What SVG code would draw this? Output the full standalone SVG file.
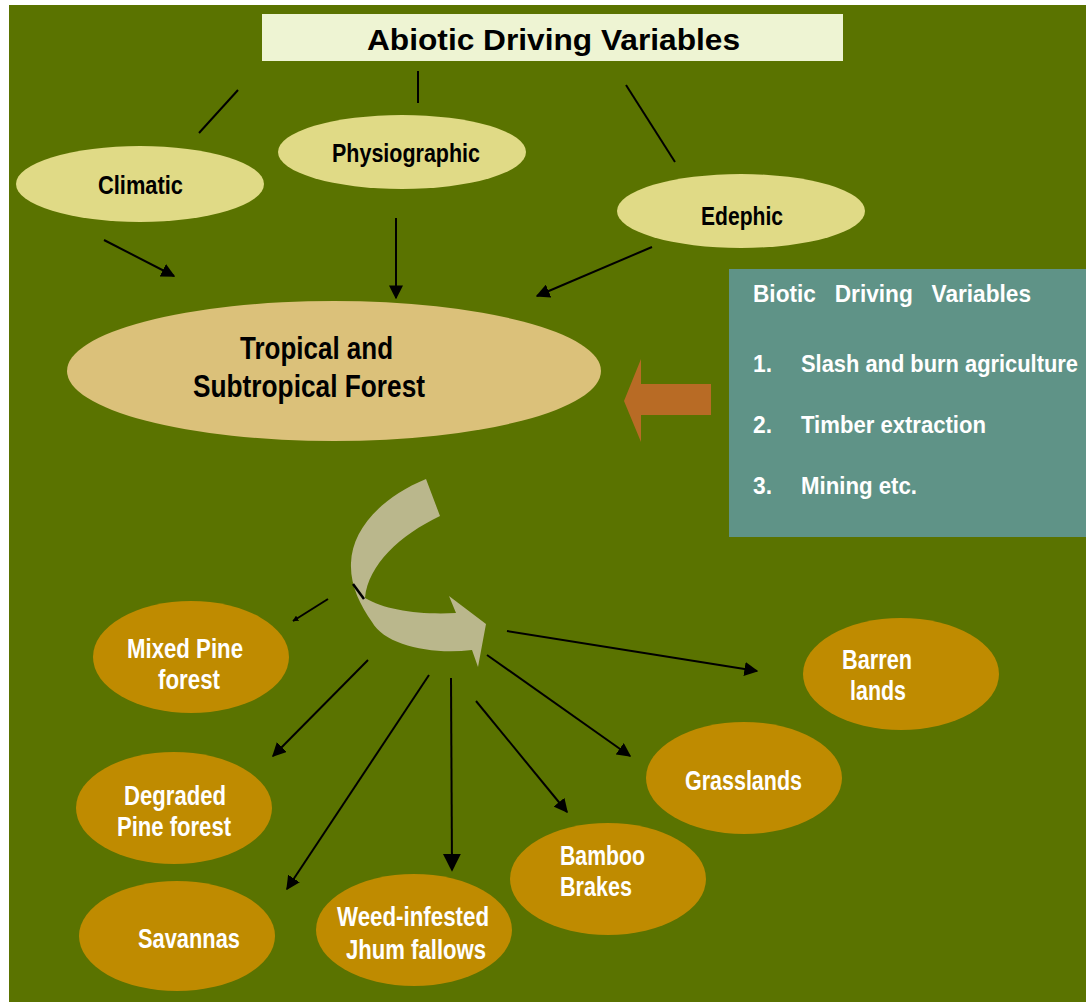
<svg xmlns="http://www.w3.org/2000/svg" width="1086" height="1002" viewBox="0 0 1086 1002">
<defs>
<style>
.cond{font-family:"Liberation Sans",Arial,sans-serif;font-weight:bold}
.dk{fill:#000}
.wt{fill:#fff}
.ab{fill:#E0DA86}
.br{fill:#BF8B00}
.ln{stroke:#000;stroke-width:2;fill:none}
</style>
<marker id="ah" viewBox="0 0 10 10" refX="9" refY="5" markerWidth="6" markerHeight="6" orient="auto" markerUnits="userSpaceOnUse">
<path d="M0,0 L10,5 L0,10 Z" fill="#000"/>
</marker>
<marker id="ahs" viewBox="0 0 10 10" refX="9" refY="5" markerWidth="14" markerHeight="14" orient="auto" markerUnits="userSpaceOnUse">
<path d="M0,0 L10,5 L0,10 Z" fill="#000"/>
</marker>
<marker id="ahl" viewBox="0 0 10 10" refX="9" refY="5" markerWidth="18" markerHeight="18" orient="auto" markerUnits="userSpaceOnUse">
<path d="M0,0 L10,5 L0,10 Z" fill="#000"/>
</marker>
</defs>
<rect x="0" y="0" width="1086" height="1002" fill="#fff"/>
<rect x="9" y="5" width="1077" height="997" fill="#5A7300"/>

<g id="title">
<rect x="262" y="14" width="581" height="47" fill="#EEF4D3"/>
<text x="367" y="50" font-family="'Liberation Sans',Arial,sans-serif" font-weight="bold" font-size="30" fill="#000" textLength="373" lengthAdjust="spacingAndGlyphs">Abiotic Driving Variables</text>
</g>

<g id="connectors">
<line class="ln" x1="238" y1="90" x2="199" y2="133"/>
<line class="ln" x1="418" y1="71" x2="418" y2="103"/>
<line class="ln" x1="626" y1="85" x2="675" y2="162"/>
<line class="ln" x1="104" y1="240" x2="174" y2="276" marker-end="url(#ahs)"/>
<line class="ln" x1="396" y1="218" x2="396" y2="298" marker-end="url(#ahs)"/>
<line class="ln" x1="652" y1="247" x2="537" y2="296" marker-end="url(#ahs)"/>
<line class="ln" x1="328" y1="599" x2="293" y2="621" stroke-width="1.5" marker-end="url(#ah)"/>
<line class="ln" x1="368" y1="660" x2="273" y2="756" marker-end="url(#ahs)"/>
<line class="ln" x1="429" y1="675" x2="287" y2="889" marker-end="url(#ahs)"/>
<line class="ln" x1="451" y1="678" x2="452" y2="870" stroke-width="3" marker-end="url(#ahl)"/>
<line class="ln" x1="476" y1="701" x2="567" y2="812" marker-end="url(#ahs)"/>
<line class="ln" x1="487" y1="655" x2="630" y2="756" marker-end="url(#ahs)"/>
<line class="ln" x1="507" y1="631" x2="757" y2="671" marker-end="url(#ahs)"/>
</g>

<g id="curved-arrow">
<path d="M426,479 L440,516 C400,535 368,565 365,598 C385,610 420,615 456,613 L449,596 L486,624 L478,667 L472,650 C430,655 385,645 372,622 C360,605 350,585 351,563 C352,530 380,498 426,479 Z" fill="#BAB78C"/>
<line x1="353" y1="584" x2="364" y2="599" stroke="#000" stroke-width="2.5"/>
</g>

<g id="biotic-arrow">
<path d="M711,384 L641,384 L641,359 L624,401 L641,442 L641,415 L711,415 Z" fill="#B86B25"/>
</g>

<g id="climatic">
<ellipse class="ab" cx="140" cy="184" rx="124" ry="38"/>
<text class="cond dk" x="98" y="194" font-size="26" textLength="85" lengthAdjust="spacingAndGlyphs">Climatic</text>
</g>
<g id="physiographic">
<ellipse class="ab" cx="402" cy="152" rx="124" ry="37"/>
<text class="cond dk" x="332" y="162" font-size="26" textLength="148" lengthAdjust="spacingAndGlyphs">Physiographic</text>
</g>
<g id="edephic">
<ellipse class="ab" cx="741" cy="211" rx="124" ry="37"/>
<text class="cond dk" x="701" y="225" font-size="26" textLength="82" lengthAdjust="spacingAndGlyphs">Edephic</text>
</g>
<g id="forest">
<ellipse cx="334" cy="371" rx="267" ry="70" fill="#DBC17A"/>
<text class="cond dk" x="240" y="359" font-size="32" textLength="153" lengthAdjust="spacingAndGlyphs">Tropical and</text>
<text class="cond dk" x="193" y="397" font-size="32" textLength="232" lengthAdjust="spacingAndGlyphs">Subtropical Forest</text>
</g>

<g id="biotic">
<rect x="729" y="269" width="357" height="268" fill="#5F9387"/>
<text class="cond wt" font-size="24" x="753" y="302" textLength="278" lengthAdjust="spacingAndGlyphs" xml:space="preserve">Biotic   Driving   Variables</text>
<text class="cond wt" font-size="24" x="753" y="372" textLength="19" lengthAdjust="spacingAndGlyphs">1.</text>
<text class="cond wt" font-size="24" x="801" y="372" textLength="277" lengthAdjust="spacingAndGlyphs">Slash and burn agriculture</text>
<text class="cond wt" font-size="24" x="753" y="433" textLength="19" lengthAdjust="spacingAndGlyphs">2.</text>
<text class="cond wt" font-size="24" x="801" y="433" textLength="185" lengthAdjust="spacingAndGlyphs">Timber extraction</text>
<text class="cond wt" font-size="24" x="753" y="494" textLength="19" lengthAdjust="spacingAndGlyphs">3.</text>
<text class="cond wt" font-size="24" x="801" y="494" textLength="116" lengthAdjust="spacingAndGlyphs">Mining etc.</text>
</g>

<g id="mixed-pine">
<ellipse class="br" cx="191" cy="657" rx="98" ry="56"/>
<text class="cond wt" font-size="27" x="127" y="658" textLength="116" lengthAdjust="spacingAndGlyphs">Mixed Pine</text>
<text class="cond wt" font-size="27" x="158" y="689" textLength="62" lengthAdjust="spacingAndGlyphs">forest</text>
</g>
<g id="degraded-pine">
<ellipse class="br" cx="174" cy="808" rx="98" ry="56"/>
<text class="cond wt" font-size="27" x="124" y="805" textLength="102" lengthAdjust="spacingAndGlyphs">Degraded</text>
<text class="cond wt" font-size="27" x="117" y="836" textLength="114" lengthAdjust="spacingAndGlyphs">Pine forest</text>
</g>
<g id="savannas">
<ellipse class="br" cx="177" cy="936" rx="98" ry="55"/>
<text class="cond wt" font-size="27" x="138" y="948" textLength="102" lengthAdjust="spacingAndGlyphs">Savannas</text>
</g>
<g id="weed-infested">
<ellipse class="br" cx="414" cy="930" rx="98" ry="56"/>
<text class="cond wt" font-size="27" x="337" y="926" textLength="152" lengthAdjust="spacingAndGlyphs">Weed-infested</text>
<text class="cond wt" font-size="27" x="346" y="959" textLength="140" lengthAdjust="spacingAndGlyphs">Jhum fallows</text>
</g>
<g id="bamboo">
<ellipse class="br" cx="608" cy="879" rx="98" ry="56"/>
<text class="cond wt" font-size="27" x="560" y="865" textLength="85" lengthAdjust="spacingAndGlyphs">Bamboo</text>
<text class="cond wt" font-size="27" x="560" y="896" textLength="72" lengthAdjust="spacingAndGlyphs">Brakes</text>
</g>
<g id="grasslands">
<ellipse class="br" cx="744" cy="778" rx="98" ry="56"/>
<text class="cond wt" font-size="27" x="685" y="790" textLength="117" lengthAdjust="spacingAndGlyphs">Grasslands</text>
</g>
<g id="barren">
<ellipse class="br" cx="901" cy="674" rx="98" ry="56"/>
<text class="cond wt" font-size="27" x="842" y="669" textLength="70" lengthAdjust="spacingAndGlyphs">Barren</text>
<text class="cond wt" font-size="27" x="850" y="700" textLength="56" lengthAdjust="spacingAndGlyphs">lands</text>
</g>
</svg>
